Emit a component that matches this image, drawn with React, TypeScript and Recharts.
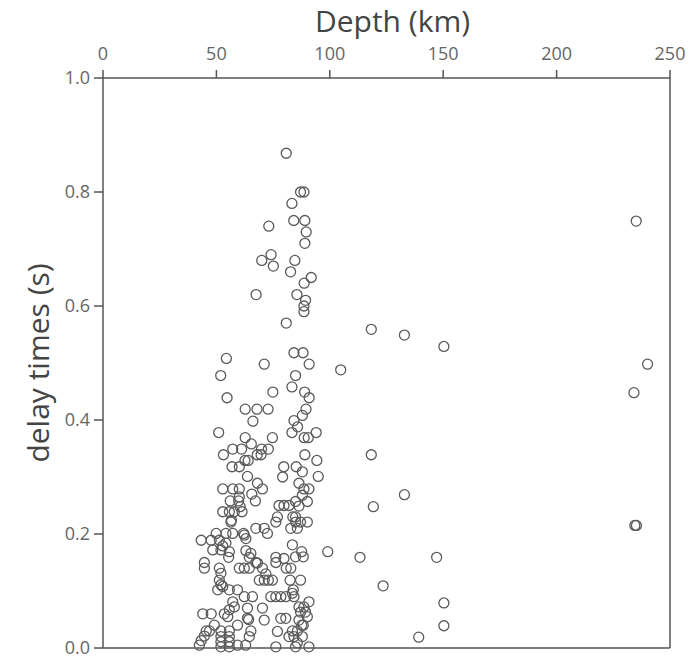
import { Scatter, ScatterChart, XAxis, YAxis } from "recharts";

const DEPTH_TICKS = [0, 50, 100, 150, 200, 250];
const DELAY_TICKS = [0, 0.2, 0.4, 0.6, 0.8, 1.0];

// [depth km, delay s]
const UPPER_POINTS: [number, number][] = [
  [80.8, 0.868], [87.1, 0.8], [88.6, 0.8], [83.3, 0.78], [84.1, 0.75], [89.0, 0.75],
  [73.1, 0.74], [89.6, 0.73], [89.0, 0.71], [74.1, 0.69], [70.0, 0.68], [84.6, 0.68],
  [75.1, 0.67], [82.7, 0.66], [91.8, 0.65], [88.7, 0.64], [67.5, 0.62], [85.5, 0.62],
  [89.3, 0.61], [88.6, 0.6], [88.6, 0.59], [80.8, 0.57],
];

const MIDDLE_POINTS: [number, number][] = [
  [84.2, 0.518], [88.2, 0.518], [54.4, 0.508], [71.1, 0.498], [90.9, 0.498], [51.9, 0.478],
  [84.9, 0.478], [83.3, 0.458], [74.9, 0.449], [88.9, 0.449], [54.7, 0.439], [90.9, 0.439],
  [62.7, 0.419], [67.9, 0.419], [72.8, 0.419], [89.5, 0.419], [87.9, 0.408], [66.1, 0.398],
  [84.2, 0.399], [85.8, 0.388], [51.0, 0.378], [83.3, 0.378], [94.0, 0.378], [62.7, 0.369],
  [74.7, 0.369], [88.7, 0.369], [90.5, 0.369], [65.4, 0.358], [57.2, 0.349], [61.1, 0.349],
  [69.9, 0.349], [72.9, 0.349], [53.1, 0.339], [68.0, 0.339], [69.7, 0.339], [89.0, 0.339],
  [62.6, 0.329], [64.0, 0.329], [94.3, 0.329], [56.9, 0.318], [60.1, 0.318], [79.7, 0.318],
  [85.2, 0.318], [87.9, 0.309], [63.7, 0.301], [79.2, 0.3], [94.9, 0.301],
];

const LOWER_POINTS: [number, number][] = [
  [68.1, 0.289], [86.4, 0.289], [52.8, 0.279], [57.2, 0.279], [60.1, 0.279], [70.3, 0.279],
  [88.6, 0.279], [90.8, 0.279], [65.6, 0.27], [60.1, 0.265], [87.9, 0.268],
  [56.1, 0.258], [59.8, 0.258], [67.2, 0.258], [84.9, 0.257], [90.1, 0.257],
  [77.6, 0.25], [79.8, 0.25], [82.0, 0.25], [86.4, 0.249], [60.5, 0.248],
  [52.8, 0.239], [55.7, 0.239], [57.9, 0.239], [61.3, 0.239],
  [76.9, 0.23], [76.2, 0.221], [83.7, 0.23], [84.9, 0.23], [84.9, 0.221], [87.1, 0.221],
  [90.1, 0.221], [56.4, 0.221], [56.6, 0.224], [82.8, 0.21], [85.7, 0.21], [67.4, 0.21],
  [71.1, 0.21], [72.5, 0.201], [62.0, 0.201], [63.0, 0.192], [62.3, 0.198],
  [49.9, 0.201], [54.2, 0.201], [57.2, 0.201], [43.3, 0.189], [47.7, 0.189], [51.3, 0.189],
  [54.2, 0.184], [48.4, 0.172], [52.0, 0.172], [55.7, 0.169], [52.8, 0.179], [55.4, 0.159],
  [83.5, 0.181], [87.6, 0.169], [88.3, 0.16], [84.9, 0.16], [79.8, 0.157],
  [63.0, 0.171], [64.5, 0.159], [65.2, 0.166], [67.4, 0.15], [76.2, 0.15], [68.1, 0.149],
  [70.3, 0.14], [44.7, 0.15], [44.7, 0.14], [51.3, 0.14], [52.0, 0.131], [80.8, 0.14],
  [82.8, 0.14], [76.2, 0.159], [60.1, 0.14], [62.3, 0.14], [64.5, 0.14], [71.8, 0.13],
  [68.9, 0.119], [71.1, 0.119], [72.9, 0.119], [74.7, 0.119], [82.5, 0.119], [87.1, 0.119],
  [51.3, 0.119], [52.0, 0.111], [50.6, 0.102], [52.8, 0.108], [55.7, 0.102], [59.3, 0.102],
  [83.9, 0.102], [83.5, 0.096], [84.2, 0.09], [62.3, 0.09], [65.9, 0.09], [74.0, 0.09],
  [76.2, 0.09], [78.4, 0.09], [80.6, 0.09], [57.2, 0.081], [57.9, 0.072], [55.7, 0.067],
  [86.4, 0.072], [88.6, 0.072], [90.8, 0.081], [87.1, 0.063], [89.3, 0.063], [90.1, 0.055],
  [63.7, 0.07], [70.3, 0.07], [44.0, 0.06], [47.7, 0.06], [53.5, 0.06], [55.0, 0.055],
  [63.7, 0.052], [64.2, 0.05], [71.1, 0.049], [78.4, 0.052], [80.6, 0.052], [86.4, 0.049],
  [87.6, 0.04], [88.3, 0.04], [49.1, 0.04], [59.3, 0.04], [65.2, 0.03], [64.5, 0.02],
  [52.0, 0.03], [55.7, 0.03], [52.0, 0.02], [55.7, 0.02], [52.0, 0.011], [55.7, 0.011],
  [46.9, 0.03], [45.5, 0.03], [44.7, 0.021], [43.3, 0.013], [42.5, 0.005],
  [76.9, 0.029], [82.0, 0.02], [83.5, 0.03], [85.7, 0.03], [84.2, 0.02], [87.9, 0.02],
  [85.7, 0.009], [90.8, 0.002], [84.9, 0.002], [76.2, 0.002], [59.3, 0.005], [62.9, 0.005],
  [52.0, 0.002], [55.7, 0.002],
];

const DEEP_POINTS: [number, number][] = [
  [104.8, 0.488], [118.3, 0.559], [132.9, 0.549], [150.3, 0.529], [118.3, 0.339],
  [132.9, 0.269], [119.2, 0.248], [99.1, 0.169], [113.3, 0.159], [147.1, 0.159],
  [123.5, 0.109], [150.3, 0.079], [150.3, 0.039], [139.2, 0.019],
  [235.1, 0.749], [240.1, 0.498], [234.1, 0.448], [234.5, 0.215], [235.2, 0.215],
];

const data = [...UPPER_POINTS, ...MIDDLE_POINTS, ...LOWER_POINTS, ...DEEP_POINTS].map(
  ([depth, delay]) => ({ depth, delay }),
);

const FONT = "'Open Sans', sans-serif";
const AXIS_COLOR = "#555";
const tickStyle = { fill: "#666", fontSize: 18, fontFamily: FONT };
const titleStyle = { fill: "#444", fontSize: 30, fontFamily: FONT };

const Ring = (props: any) => (
  <circle cx={props.cx} cy={props.cy} r={5} fill="none" stroke="#5a5a5a" strokeWidth={1.3} />
);

const NoLabel = () => <g />;

export default function App() {
  return (
    <div style={{ position: "absolute", left: 0, top: 0, width: 690, height: 662 }}>
      <ScatterChart width={690} height={662} margin={{ top: 0, right: 0, bottom: 0, left: 0 }}>
        <XAxis
          type="number"
          dataKey="depth"
          orientation="top"
          domain={[0, 250]}
          ticks={DEPTH_TICKS}
          height={78}
          tick={tickStyle}
          tickSize={8}
          tickMargin={10}
          stroke={AXIS_COLOR}
          strokeWidth={1.5}
          label={{ value: "Depth (km)", position: "insideTop", offset: 11, dx: 6, style: titleStyle }}
        />
        <XAxis
          xAxisId="b"
          type="number"
          orientation="bottom"
          domain={[0, 250]}
          ticks={DEPTH_TICKS}
          height={14}
          tick={NoLabel}
          tickSize={8}
          stroke={AXIS_COLOR}
          strokeWidth={1.5}
        />
        <YAxis
          type="number"
          dataKey="delay"
          domain={[0, 1]}
          ticks={DELAY_TICKS}
          width={103}
          tick={tickStyle}
          tickFormatter={(v) => Number(v).toFixed(1)}
          tickSize={9}
          tickMargin={4}
          stroke={AXIS_COLOR}
          strokeWidth={1.5}
          label={{ value: "delay times (s)", angle: -90, position: "insideLeft", offset: 38, style: { ...titleStyle, textAnchor: "middle" } }}
        />
        <YAxis
          yAxisId="r"
          type="number"
          orientation="right"
          domain={[0, 1]}
          ticks={DELAY_TICKS}
          width={20}
          tick={NoLabel}
          tickSize={8}
          stroke={AXIS_COLOR}
          strokeWidth={1.5}
        />
        <Scatter data={data} shape={Ring} isAnimationActive={false} />
      </ScatterChart>
    </div>
  );
}
